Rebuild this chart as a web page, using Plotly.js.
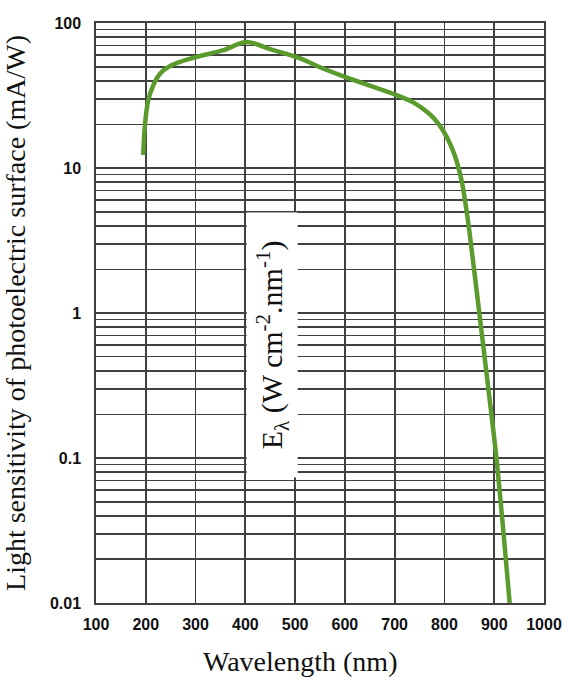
<!DOCTYPE html>
<html>
<head>
<meta charset="utf-8">
<script src="https://cdn.plot.ly/plotly-3.0.1.min.js"></script>
<style>html,body{margin:0;padding:0;background:#fff;}#chart{width:567px;height:678px;}</style>
</head>
<body>
<div id="chart"></div>
<script>
// Data
var wavelength = [195,198,205,215,224,235,250,269,302,356,402,450,510,550,600,650,704,740,764,780,797,812,824,835,847,858,871,891,905,920,931];
var sensitivity = [12.3,19.2,29.4,37.2,42.5,47,50.8,54,58.4,64.9,74,66,57,49.5,42.5,37,31.8,28,24.5,21.8,18.2,14.5,11.3,8,4.4,2.2,0.94,0.25,0.096,0.027,0.01];

var xTicks = [100,200,300,400,500,600,700,800,900,1000];
var yDecades = [0.01,0.1,1,10,100];
var yDecadeLabels = ["0.01","0.1","1","10","100"];
var yMultipliers = [2,3,4,5,6,7,8,9];

var xTitle = "Wavelength (nm)";
var yTitle = "Light sensitivity of photoelectric surface (mA/W)";
var boxLabel = "E<sub>λ</sub> (W cm<sup>-2</sup>.nm<sup>-1</sup>)";

// minor grid at 2..9 of each decade
var yMinorVals = [];
for (var d = 0; d < yDecades.length - 1; d++) {
  for (var m = 0; m < yMultipliers.length; m++) {
    yMinorVals.push(+(yDecades[d] * yMultipliers[m]).toPrecision(6));
  }
}

var gridColor = "#404040";
var tickFont = {family: "Liberation Sans, Arial, sans-serif", size: 16, color: "#111", weight: "bold"};
var serif = "Liberation Serif, Times New Roman, serif";

var trace = {
  x: wavelength, y: sensitivity, type: "scatter", mode: "lines",
  line: {color: "#5b9a2c", width: 4.5, shape: "spline", smoothing: 0.9},
  hoverinfo: "x+y"
};

var layout = {
  width: 567, height: 678,
  margin: {l: 96, r: 23, t: 23, b: 75, pad: 0},
  paper_bgcolor: "#fff", plot_bgcolor: "#fff",
  showlegend: false,
  xaxis: {
    range: [100, 1000], tickvals: xTicks, ticktext: xTicks.map(String),
    showgrid: true, gridcolor: gridColor, gridwidth: 1.7,
    zeroline: false, showline: true, linecolor: gridColor, linewidth: 1.7, mirror: true,
    ticks: "outside", ticklen: 6, tickcolor: "rgba(0,0,0,0)",
    tickfont: tickFont, fixedrange: true
  },
  yaxis: {
    type: "log", range: [-2, 2], tickvals: yDecades, ticktext: yDecadeLabels,
    showgrid: true, gridcolor: gridColor, gridwidth: 1.7,
    minor: {tickmode: "array", tickvals: yMinorVals, showgrid: true, gridcolor: gridColor, gridwidth: 1.7, ticks: ""},
    zeroline: false, showline: true, linecolor: gridColor, linewidth: 1.7, mirror: true,
    ticks: "outside", ticklen: 10, tickcolor: "rgba(0,0,0,0)",
    tickfont: tickFont, fixedrange: true,
    title: {text: yTitle, font: {family: serif, size: 28, color: "#111"}, standoff: 22}
  },
  annotations: [
    {
      xref: "paper", yref: "paper", x: 0.455, y: -0.1, xanchor: "center", yanchor: "middle",
      text: xTitle, showarrow: false, font: {family: serif, size: 28, color: "#111"}
    },
    {
      xref: "paper", yref: "paper", x: 0.393, y: 0.445, xanchor: "center", yanchor: "middle",
      text: boxLabel, showarrow: false, textangle: -90,
      font: {family: serif, size: 30, color: "#111"},
      bgcolor: "#ffffff", width: 262, height: 48
    }
  ]
};

Plotly.newPlot("chart", [trace], layout, {displayModeBar: false, staticPlot: true});
</script>
</body>
</html>
